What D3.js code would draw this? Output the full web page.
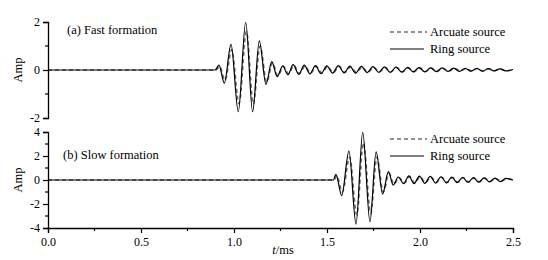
<!DOCTYPE html>
<html lang="en">
<head>
<meta charset="utf-8">
<style>
  body { margin: 0; background: #fff; }
  text { font-family: "Liberation Serif", "Times New Roman", serif; font-size: 12.5px; fill: #000; }
</style>
</head>
<body>
<svg id="chart" width="548" height="260"></svg>
<script src="https://cdn.jsdelivr.net/npm/d3@7"></script>
<script>
// ---- data (extrema of each trace) ----
// (a) fast formation, ring source (solid)
var fastRingT = [0, 0.898, 0.919, 0.948, 0.984, 1.023, 1.063, 1.100, 1.136, 1.172, 1.203, 1.232, 1.262,
  1.290, 1.318, 1.348, 1.378, 1.408, 1.438, 1.468, 1.499, 1.530, 1.561, 1.592, 1.623, 1.654, 1.685,
  1.716, 1.747, 1.778, 1.809, 1.840, 1.871, 1.902, 1.933, 1.964, 1.995, 2.026, 2.057, 2.088, 2.119,
  2.150, 2.181, 2.212, 2.243, 2.274, 2.305, 2.336, 2.367, 2.398, 2.429, 2.460, 2.500];
var fastRingA = [0, 0, 0.2, -0.55, 1.07, -1.74, 1.99, -1.74, 1.21, -0.6, 0.35, -0.28, 0.17,
  -0.2, 0.22, -0.18, 0.2, -0.16, 0.18, -0.15, 0.17, -0.13, 0.18, -0.12, 0.16, -0.13, 0.15,
  -0.11, 0.14, -0.1, 0.13, -0.1, 0.12, -0.09, 0.11, -0.08, 0.1, -0.08, 0.09, -0.07, 0.09,
  -0.06, 0.08, -0.06, 0.07, -0.05, 0.07, -0.05, 0.06, -0.04, 0.05, -0.04, 0.02];
// (a) fast formation, arcuate source (dashed)
var fastArcT = [0, 0.902, 0.923, 0.952, 0.988, 1.027, 1.067, 1.104, 1.140, 1.176, 1.207, 1.236, 1.266,
  1.294, 1.322, 1.352, 1.382, 1.412, 1.442, 1.472, 1.503, 1.534, 1.565, 1.596, 1.627, 1.658, 1.689,
  1.720, 1.751, 1.782, 1.813, 1.844, 1.875, 1.906, 1.937, 1.968, 1.999, 2.030, 2.061, 2.092, 2.123,
  2.154, 2.185, 2.216, 2.247, 2.278, 2.309, 2.340, 2.371, 2.402, 2.433, 2.464, 2.500];
var fastArcA = [0, 0, 0.15, -0.42, 0.85, -1.4, 1.6, -1.42, 1.0, -0.5, 0.3, -0.24, 0.15,
  -0.16, 0.18, -0.15, 0.16, -0.13, 0.15, -0.12, 0.14, -0.11, 0.14, -0.1, 0.13, -0.1, 0.12,
  -0.09, 0.11, -0.08, 0.1, -0.08, 0.1, -0.07, 0.09, -0.07, 0.08, -0.06, 0.08, -0.06, 0.07,
  -0.05, 0.07, -0.05, 0.06, -0.04, 0.06, -0.04, 0.05, -0.03, 0.04, -0.03, 0.02];
// (b) slow formation, ring source (solid)
var slowRingT = [0, 1.534, 1.548, 1.579, 1.618, 1.656, 1.692, 1.731, 1.764, 1.799, 1.830, 1.856, 1.883,
  1.912, 1.940, 1.968, 1.997, 2.026, 2.055, 2.084, 2.113, 2.142, 2.171, 2.200, 2.229, 2.258,
  2.287, 2.316, 2.345, 2.374, 2.403, 2.432, 2.461, 2.500];
var slowRingA = [0, 0, 0.47, -1.3, 2.4, -3.67, 3.97, -3.47, 2.35, -1.17, 0.7, -0.42, 0.25,
  -0.3, 0.35, -0.3, 0.32, -0.28, 0.3, -0.25, 0.27, -0.24, 0.25, -0.22, 0.23, -0.2,
  0.2, -0.18, 0.18, -0.16, 0.16, -0.14, 0.13, 0];
// (b) slow formation, arcuate source (dashed)
var slowArcT = [0, 1.538, 1.552, 1.583, 1.622, 1.660, 1.696, 1.735, 1.768, 1.803, 1.834, 1.860, 1.887,
  1.916, 1.944, 1.972, 2.001, 2.030, 2.059, 2.088, 2.117, 2.146, 2.175, 2.204, 2.233, 2.262,
  2.291, 2.320, 2.349, 2.378, 2.407, 2.436, 2.465, 2.500];
var slowArcA = [0, 0, 0.35, -1.0, 1.9, -2.9, 3.1, -2.8, 1.9, -1.0, 0.55, -0.35, 0.2,
  -0.25, 0.28, -0.25, 0.26, -0.23, 0.24, -0.2, 0.22, -0.2, 0.2, -0.18, 0.19, -0.16,
  0.16, -0.15, 0.15, -0.13, 0.13, -0.11, 0.1, 0];

var xTicks = [0, 0.5, 1.0, 1.5, 2.0, 2.5];
var xMinor = [0.25, 0.75, 1.25, 1.75, 2.25];
var topTicks = [-2, 0, 2];
var topMinor = [-1, 1];
var botTicks = [-4, -2, 0, 2, 4];
var botMinor = [-3, -1, 1, 3];
var seriesNames = ["Arcuate source", "Ring source"];

var svg = d3.select("#chart");

var x = d3.scaleLinear().domain([0, 2.5]).range([48, 513]);
var yTop = d3.scaleLinear().domain([-2, 2]).range([118, 22]);
var yBot = d3.scaleLinear().domain([-4, 4]).range([228, 132]);

// plain hyphen for negatives, like the original
var intFmt = function(d){ return String(d); };

function drawPanel(y, ticks, minor, ringT, ringA, arcT, arcA, label, labelX, labelY, legY) {
  var g = svg.append("g");
  var line = d3.line()
    .x(function(d){ return x(d[0]); })
    .y(function(d){ return y(d[1]); })
    .curve(d3.curveMonotoneX);

  var arc = arcT.map(function(t, i){ return [t, arcA[i]]; });
  var ring = ringT.map(function(t, i){ return [t, ringA[i]]; });

  g.append("path").attr("d", line(arc))
    .attr("fill", "none").attr("stroke", "#6e6e6e").attr("stroke-width", 1.6)
    .attr("stroke-dasharray", "4,3");
  g.append("path").attr("d", line(ring))
    .attr("fill", "none").attr("stroke", "#000").attr("stroke-width", 1.2);

  // left axis
  var ax = g.append("g").attr("transform", "translate(" + x(0) + ",0)")
    .call(d3.axisLeft(y).tickValues(ticks).tickSize(5).tickFormat(intFmt));
  ax.select(".domain").attr("stroke", "#000").attr("stroke-width", 1.3);
  ax.selectAll("line").attr("stroke", "#000").attr("stroke-width", 1.2);
  ax.selectAll("text").attr("x", -8).style("font-size", "12px")
    .style("font-family", "'Liberation Serif', serif").attr("fill", "#000");
  g.selectAll(".minor").data(minor).enter().append("line")
    .attr("x1", x(0) - 3).attr("x2", x(0))
    .attr("y1", function(d){ return y(d); }).attr("y2", function(d){ return y(d); })
    .attr("stroke", "#000").attr("stroke-width", 1.2);

  g.append("text").attr("transform", "translate(22," + y(0) + ") rotate(-90)")
    .attr("text-anchor", "middle").text("Amp");

  g.append("text").attr("x", labelX).attr("y", labelY).attr("dy", "0.35em").text(label);

  // legend
  var lx = 390;
  g.append("line").attr("x1", lx).attr("x2", lx + 37).attr("y1", legY).attr("y2", legY)
    .attr("stroke", "#6e6e6e").attr("stroke-width", 1.6).attr("stroke-dasharray", "4,3");
  g.append("text").attr("x", lx + 40).attr("y", legY).attr("dy", "0.35em").text(seriesNames[0]);
  g.append("line").attr("x1", lx).attr("x2", lx + 34).attr("y1", legY + 17).attr("y2", legY + 17)
    .attr("stroke", "#000").attr("stroke-width", 1.2);
  g.append("text").attr("x", lx + 40).attr("y", legY + 17).attr("dy", "0.35em").text(seriesNames[1]);
  return g;
}

drawPanel(yTop, topTicks, topMinor, fastRingT, fastRingA, fastArcT, fastArcA,
  "(a) Fast formation", 67, 30, 32);
drawPanel(yBot, botTicks, botMinor, slowRingT, slowRingA, slowArcT, slowArcA,
  "(b) Slow formation", 63, 155, 139);

// bottom x axis
var xa = svg.append("g").attr("transform", "translate(0," + yBot(-4) + ")")
  .call(d3.axisBottom(x).tickValues(xTicks).tickSize(5).tickFormat(d3.format(".1f")));
xa.select(".domain").attr("stroke", "#000").attr("stroke-width", 1.3);
xa.selectAll("line").attr("stroke", "#000").attr("stroke-width", 1.2);
xa.selectAll("text").attr("y", 9).style("font-size", "12px")
  .style("font-family", "'Liberation Serif', serif").attr("fill", "#000");
svg.selectAll(".xminor").data(xMinor).enter().append("line")
  .attr("x1", function(d){ return x(d); }).attr("x2", function(d){ return x(d); })
  .attr("y1", yBot(-4)).attr("y2", yBot(-4) + 3)
  .attr("stroke", "#000").attr("stroke-width", 1.2);

var xl = svg.append("text").attr("x", 283).attr("y", 254).attr("text-anchor", "middle");
xl.append("tspan").style("font-style", "italic").text("t");
xl.append("tspan").text("/ms");
</script>
</body>
</html>
